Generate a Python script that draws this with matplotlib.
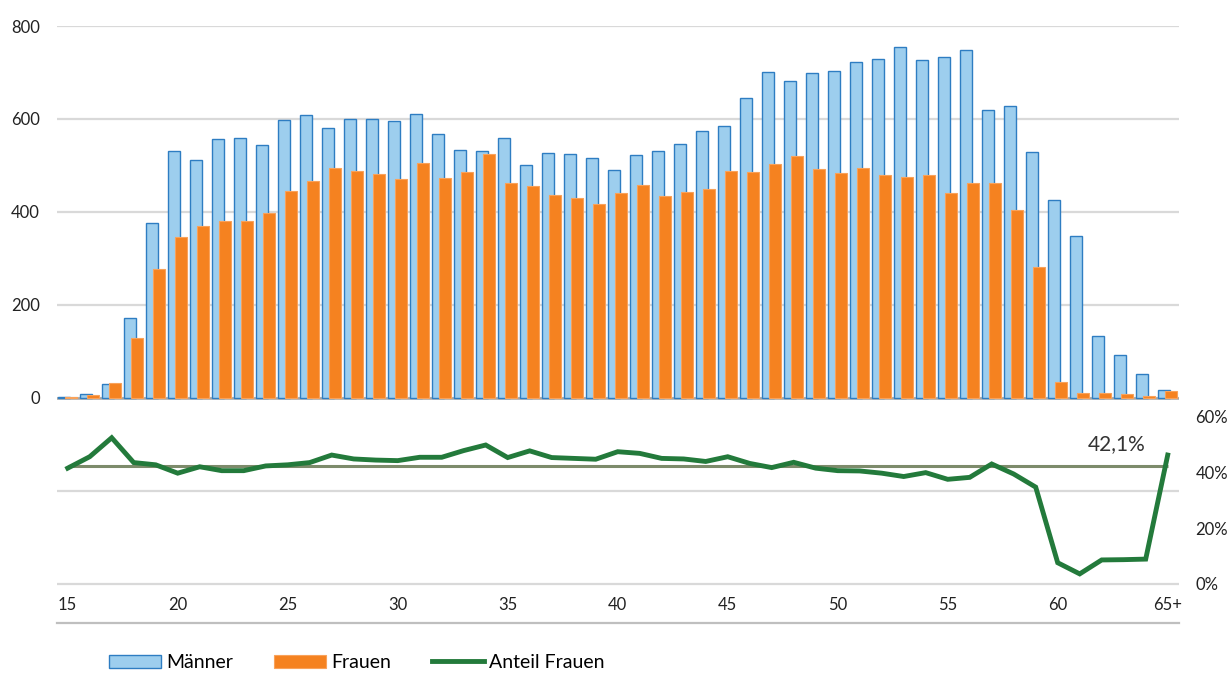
import numpy as np
import matplotlib
matplotlib.use("Agg")
import matplotlib.pyplot as plt

plt.rcParams['font.family'] = ['Lato', 'DejaVu Sans']

# Altersklassen 15 .. 64, 65+
ages = [str(a) for a in range(15, 65)] + ['65+']

maenner = [3, 8, 29, 171, 377, 532, 511, 558, 559, 543,
           598, 609, 580, 601, 600, 596, 610, 567, 533, 532,
           560, 502, 527, 524, 517, 491, 523, 532, 547, 574,
           585, 646, 702, 681, 699, 704, 723, 730, 755, 726,
           734, 748, 620, 627, 530, 426, 349, 133, 93, 52,
           17]

frauen = [1, 6, 32, 130, 278, 347, 370, 381, 381, 397,
          445, 466, 494, 489, 482, 472, 505, 474, 486, 525,
          463, 456, 436, 429, 417, 441, 458, 434, 442, 449,
          489, 487, 503, 520, 492, 483, 494, 479, 476, 480,
          441, 462, 462, 405, 282, 35, 11, 11, 8, 4,
          14]

anteil_frauen = [41.5, 45.6, 52.4, 43.5, 42.7, 39.7, 42.0, 40.6, 40.6, 42.3,
                 42.7, 43.5, 46.2, 44.8, 44.4, 44.2, 45.4, 45.4, 47.8, 49.8,
                 45.3, 47.7, 45.3, 45.0, 44.7, 47.4, 46.8, 45.0, 44.8, 43.9,
                 45.6, 43.2, 41.7, 43.6, 41.5, 40.6, 40.5, 39.7, 38.5, 39.9,
                 37.5, 38.2, 43.0, 39.4, 34.7, 7.6, 3.6, 8.6, 8.7, 8.9,
                 46.2]
anteil_mittel = 42.1

x = np.arange(len(ages))
share = np.array(anteil_frauen) / 100

fig = plt.figure(figsize=(12.3, 6.79), dpi=100)
ax = fig.add_axes([0.0461, 0.0825, 0.9122, 0.8792])
ax2 = ax.twinx()

grid_c = '#D9D9D9'
ax.set_ylim(-484, 800)
ax.set_yticks(range(-400, 801, 200))
ax.set_yticklabels(['', ''] + [str(v) for v in range(0, 801, 200)])
ax.yaxis.grid(True, color=grid_c, lw=1.6, zorder=0)
ax.set_axisbelow(True)
ax.axhline(0, color='#A6A6A6', lw=1.8, zorder=1)

w = 0.55
b1 = ax.bar(x - 0.16, maenner, width=w, color='#9DCEEE', edgecolor='#2E7DC2',
            linewidth=1.0, zorder=2, label='Männer')
b2 = ax.bar(x + 0.14, frauen, width=w, color='#F58220', edgecolor='#F9A25A',
            linewidth=0.8, zorder=3, label='Frauen')

ax.set_xlim(-0.5, len(ages) - 0.5)
tick_pos = list(range(0, 50, 5)) + [50]
ax.set_xticks(tick_pos)
ax.set_xticklabels([ages[i] for i in tick_pos])
ax.tick_params(axis='x', length=0, pad=-19, labelsize=12, colors='#222222')
ax.tick_params(axis='y', length=0, pad=12, labelsize=12, colors='#222222')

for s in ['top', 'left', 'right']:
    ax.spines[s].set_visible(False)
    ax2.spines[s].set_visible(False)
ax.spines['bottom'].set_color('#BFBFBF')
ax.spines['bottom'].set_linewidth(1.6)
ax2.spines['bottom'].set_visible(False)

# Anteil Frauen, rechte Achse
ax2.set_ylim(-0.14, 2.0)
ax2.set_yticks([0, 0.2, 0.4, 0.6])
ax2.set_yticklabels(['0%', '20%', '40%', '60%'])
ax2.tick_params(axis='y', length=0, pad=12, labelsize=12, colors='#222222')
ax2.hlines(anteil_mittel / 100, x[0], x[-1], color='#7D8B6B', lw=2.2, zorder=3)
ln, = ax2.plot(x, share, color='#237A3B', lw=3.5, solid_joinstyle='miter',
               zorder=4, label='Anteil Frauen')
ax2.text(47.7, 0.50, f'{anteil_mittel:.1f}%'.replace('.', ','), ha='center',
         va='center', fontsize=15, color='#333333')

fig.legend([b1, b2, ln], ['Männer', 'Frauen', 'Anteil Frauen'], ncol=3,
           loc='center', bbox_to_anchor=(0.29, 0.024), frameon=False,
           fontsize=14, handlelength=2.7, columnspacing=2.1, handletextpad=0.25,
           borderpad=0.2)

fig.savefig('out.png', dpi=100)
